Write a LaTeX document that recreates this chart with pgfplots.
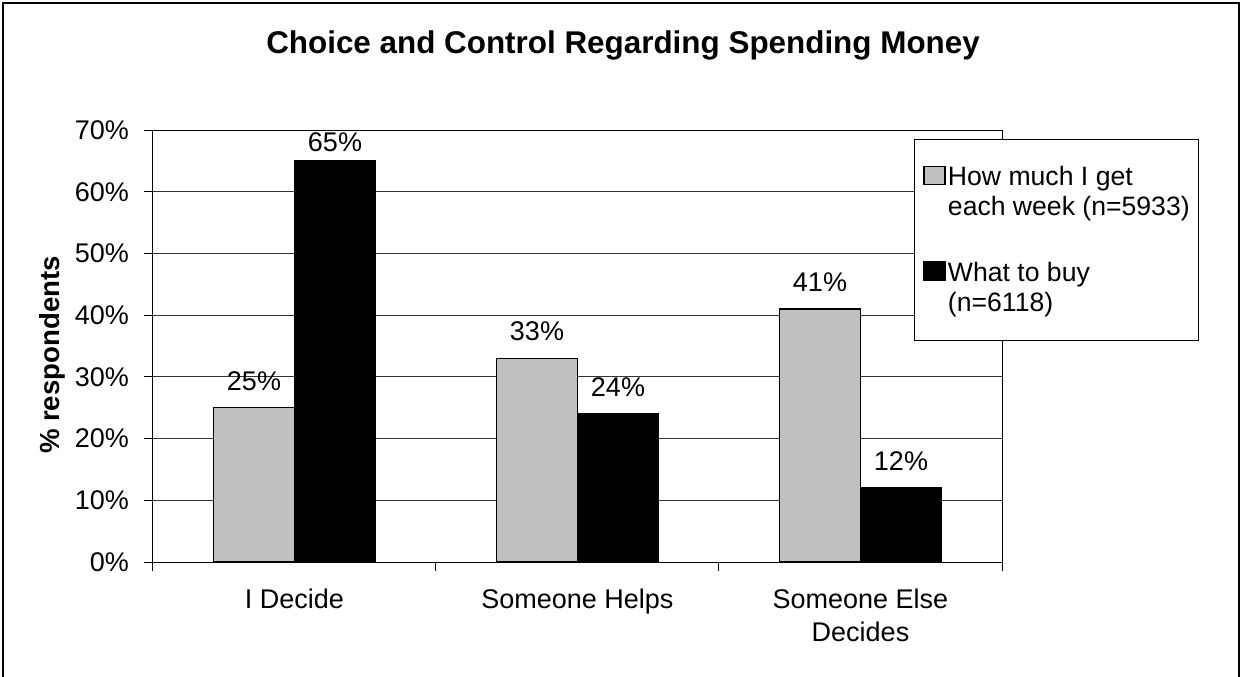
\documentclass[border=0pt]{standalone}
\usepackage{fontspec}
\setmainfont{Liberation Sans}
\usepackage{pgfplots}
\pgfplotsset{compat=1.18}
\definecolor{bargray}{RGB}{192,192,192}
\begin{document}
\begin{tikzpicture}
\begin{axis}[
  scale only axis, width=424.5pt, height=216pt,
  at={(0,0)}, anchor=south west,
  xmin=-0.5, xmax=2.5, ymin=0, ymax=70,
  ybar=0pt, bar width=40.5pt,
  ytick={0,10,...,70},
  yticklabel={\pgfmathprintnumber{\tick}\%},
  /pgf/number format/assume math mode=true,
  font=\fontsize{13.5}{16.5}\selectfont,
  tick label style={font=\fontsize{13.5}{16.5}\selectfont},
  tick align=outside, major tick length=4.5pt,
  ytick pos=left, xtick pos=bottom,
  xtick={-0.5,0.5,1.5,2.5}, xticklabels={},
  extra x ticks={0,1,2},
  extra x tick labels={I Decide,Someone Helps,{Someone Else\\Decides}},
  extra x tick style={major tick length=0pt},
  xticklabel style={align=center, yshift=-10pt},
  yticklabel style={xshift=-4pt},
  ymajorgrids, grid style={black!80, line width=0.5pt},
  axis line style={black, line width=0.5pt},
  tick style={black, line width=0.5pt},
  visualization depends on={ifthenelse(y>60,4.5,8.8) \as \labshift},
  nodes near coords={\pgfmathprintnumber{\pgfplotspointmeta}\%},
  every node near coord/.append style={anchor=base, yshift=\labshift pt, font=\fontsize{13.5}{16.5}\selectfont, text=black},
  title={Choice and Control Regarding Spending Money},
  title style={at={(axis description cs:0.5536,1.168)}, anchor=center, yshift=0pt, font=\bfseries\fontsize{15.7}{18}\selectfont},
  ylabel={\% respondents},
  ylabel style={at={(axis description cs:-0.1185,0.479)}, anchor=center, font=\bfseries\fontsize{13.8}{16}\selectfont},
  legend style={at={(rel axis cs:0.8963,0.9792)}, anchor=north west, draw=black, line width=0.5pt, fill=white,
    inner xsep=4.5pt, inner ysep=13.1pt, row sep=21.3pt, column sep=1pt, cells={align=left},
    nodes={inner sep=0pt}, font=\fontsize{13.3}{15}\selectfont},
  legend cell align=left,
  legend image code/.code={\draw[#1, line width=0.75pt, draw=black] (0pt,4.1pt) rectangle (10.5pt,13.1pt);},
]
\addplot[fill=bargray, draw=black, line width=0.75pt] coordinates {(0,25) (1,33) (2,41)};
\addplot[fill=black, draw=black, line width=0.75pt] coordinates {(0,65) (1,24) (2,12)};
\addlegendentry{How much I get\\each week (n=5933)}
\addlegendentry{What to buy\\(n=6118)}
\end{axis}
\draw[line width=1pt] (-75pt,-60pt) -- (-75pt,279.5pt) -- (543pt,279.5pt) -- (543pt,-60pt);
\pgfresetboundingbox
\path[use as bounding box] (-76.5pt,-57pt) rectangle (545pt,281pt);
\end{tikzpicture}
\end{document}
